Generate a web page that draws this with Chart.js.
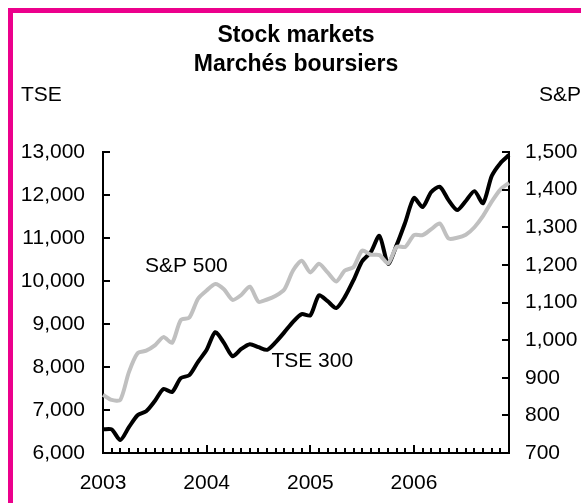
<!DOCTYPE html>
<html>
<head>
<meta charset="utf-8">
<script src="https://cdn.jsdelivr.net/npm/chart.js@4"></script>
<style>
  html, body { margin: 0; padding: 0; background: #fff; }
  #wrap { width: 581px; height: 503px; }
</style>
</head>
<body>
<div id="wrap"><canvas id="stockChart" width="581" height="503"></canvas></div>
<script>
// monthly data, Jan 2003 - Dec 2006
const years = ["2003", "2004", "2005", "2006"];
const monthNames = ["Jan", "Feb", "Mar", "Apr", "May", "Jun", "Jul", "Aug", "Sep", "Oct", "Nov", "Dec"];

const tse = [
  6550, 6550, 6300, 6600, 6880, 6970, 7210, 7490, 7420, 7740, 7810, 8120,
  8400, 8810, 8560, 8250, 8420, 8530, 8460, 8400, 8580, 8810, 9050, 9230,
  9200, 9670, 9530, 9370, 9630, 10020, 10460, 10670, 11050, 10400, 10840, 11370,
  11930, 11720, 12070, 12190, 11880, 11650, 11860, 12090, 11810, 12440, 12740, 12930,
];

const sp500 = [
  855, 841, 841, 915, 965, 972, 986, 1008, 993, 1053, 1060, 1110,
  1132, 1149, 1135, 1107, 1120, 1142, 1102, 1108, 1118, 1135, 1185, 1211,
  1180, 1203, 1180, 1156, 1185, 1194, 1238, 1227, 1226, 1204, 1248, 1248,
  1279, 1279, 1295, 1310, 1270, 1272, 1280, 1300, 1330, 1368, 1400, 1418,
];

const tseTicks = { min: 6000, max: 13000, step: 1000 };
const spTicks = { min: 700, max: 1500, step: 100 };

const labels = [];
years.forEach((y) => monthNames.forEach((m) => labels.push(m + " " + y)));

const FONT = "'Liberation Sans', Arial, sans-serif";

// white background + magenta frame (top and left edges)
const framePlugin = {
  id: "frame",
  beforeDraw: (chart) => {
    const ctx = chart.ctx;
    ctx.save();
    ctx.fillStyle = "#fff";
    ctx.fillRect(0, 0, chart.width, chart.height);
    ctx.fillStyle = "#EC008C";
    ctx.fillRect(8, 8, chart.width - 8, 5);
    ctx.fillRect(8, 8, 5, chart.height - 8);
    ctx.restore();
  },
};

// inward tick marks, titles and series labels
const decoPlugin = {
  id: "deco",
  afterDatasetsDraw: (chart) => {
    const ctx = chart.ctx;
    const area = chart.chartArea;
    const x = chart.scales.x;
    const yl = chart.scales.y;
    const yr = chart.scales.y1;
    ctx.save();
    ctx.strokeStyle = "#000";
    ctx.lineWidth = 2;
    ctx.beginPath();
    x.ticks.forEach((t, i) => {
      const px = Math.round(x.getPixelForTick(i));
      const len = i % 12 === 0 ? 8 : 5;
      ctx.moveTo(px, area.bottom);
      ctx.lineTo(px, area.bottom - len);
    });
    yl.ticks.forEach((t) => {
      const py = Math.round(yl.getPixelForValue(t.value));
      ctx.moveTo(area.left, py);
      ctx.lineTo(area.left + 7, py);
    });
    yr.ticks.forEach((t) => {
      const py = Math.round(yr.getPixelForValue(t.value));
      ctx.moveTo(area.right, py);
      ctx.lineTo(area.right - 7, py);
    });
    ctx.stroke();

    ctx.fillStyle = "#000";
    ctx.textBaseline = "middle";
    ctx.font = "bold 23px " + FONT;
    ctx.textAlign = "center";
    ctx.fillText("Stock markets", 296, 36);
    ctx.fillText("Marchés boursiers", 296, 65);

    ctx.font = "21px " + FONT;
    ctx.textAlign = "left";
    ctx.fillText("TSE", 21, 95);
    ctx.textAlign = "right";
    ctx.fillText("S&P", 581, 95);

    // series labels placed in data space
    ctx.textAlign = "left";
    ctx.fillText("S&P 500", x.getPixelForValue(4.85), yr.getPixelForValue(1197));
    ctx.fillText("TSE 300", x.getPixelForValue(19.5), yl.getPixelForValue(8130));
    ctx.restore();
  },
};

document.addEventListener("DOMContentLoaded", function () {
  const ctx = document.getElementById("stockChart").getContext("2d");

  new Chart(ctx, {
    type: "line",
    data: {
      labels: labels,
      datasets: [
        {
          label: "S&P 500",
          data: sp500,
          yAxisID: "y1",
          borderColor: "#C0C0C0",
          borderWidth: 4,
          pointRadius: 0,
          tension: 0.25,
        },
        {
          label: "TSE 300",
          data: tse,
          yAxisID: "y",
          borderColor: "#000",
          borderWidth: 4,
          pointRadius: 0,
          tension: 0.25,
        },
      ],
    },
    options: {
      responsive: false,
      animation: false,
      devicePixelRatio: 1,
      layout: { padding: { top: 152, left: 0, right: 0, bottom: 0 } },
      plugins: {
        legend: { display: false },
        tooltip: { enabled: false },
      },
      scales: {
        x: {
          type: "category",
          offset: false,
          grid: { display: false, drawTicks: false },
          border: { display: true, color: "#000", width: 2 },
          afterFit: (scale) => {
            scale.height = 50;
          },
          ticks: {
            autoSkip: false,
            maxRotation: 0,
            padding: 18,
            color: "#000",
            font: { family: FONT, size: 21 },
            callback: (v, i) => (i % 12 === 0 ? years[i / 12] : ""),
          },
        },
        y: {
          position: "left",
          min: tseTicks.min,
          max: tseTicks.max,
          grid: { display: false, drawTicks: false },
          border: { display: true, color: "#000", width: 2 },
          afterFit: (scale) => {
            scale.width = 103;
          },
          ticks: {
            stepSize: tseTicks.step,
            padding: 18,
            color: "#000",
            font: { family: FONT, size: 21 },
            callback: (v) => v.toLocaleString("en-US"),
          },
        },
        y1: {
          position: "right",
          min: spTicks.min,
          max: spTicks.max,
          grid: { display: false, drawTicks: false },
          border: { display: true, color: "#000", width: 2 },
          afterFit: (scale) => {
            scale.width = 72;
          },
          ticks: {
            stepSize: spTicks.step,
            padding: 16,
            color: "#000",
            font: { family: FONT, size: 21 },
            callback: (v) => v.toLocaleString("en-US"),
          },
        },
      },
    },
    plugins: [framePlugin, decoPlugin],
  });
});
</script>
</body>
</html>
